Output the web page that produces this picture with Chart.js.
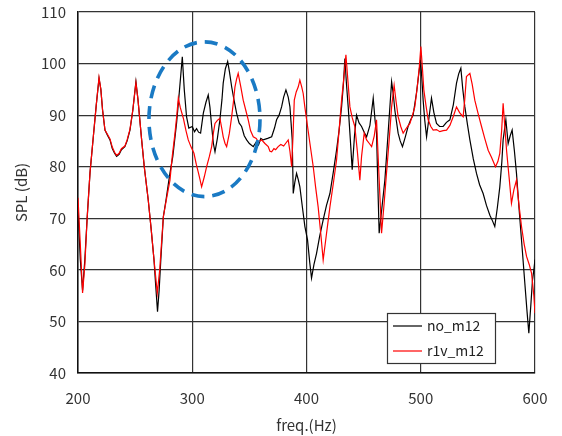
<!DOCTYPE html>
<html>
<head>
<meta charset="utf-8">
<script src="https://cdn.jsdelivr.net/npm/chart.js@4/dist/chart.umd.min.js"></script>
<style>
  html, body { margin: 0; padding: 0; background: #fff; }
  #wrap { width: 562px; height: 436px; }
</style>
</head>
<body>
<div id="wrap"><canvas id="splChart" width="562" height="436"></canvas></div>
<script>
// axis ticks
const freqTicks = [200, 300, 400, 500, 600];
const splTicks = [40, 50, 60, 70, 80, 90, 100, 110];

// no_m12 (black)
const freqNo = [200, 202, 204, 206, 208, 210.5, 213.4, 216, 218.4, 220, 221.5, 223.6, 226, 228, 230, 232, 233.8, 236, 238, 241,
  243, 245.5, 248, 250.7, 252.5, 255.7, 258, 261.5, 264, 266.5, 268, 269.6, 271, 272.5, 274.7, 277, 280.5, 283, 286.3, 288.5,
  291.3, 293, 295, 297, 300, 302, 303.8, 305.5, 307.3, 309.7, 312, 314, 315.5, 317, 318.5, 319.9, 322, 324.2, 326, 327.1,
  329, 331, 332.5, 334.5, 336.5, 338.8, 341, 343.2, 345.5, 347.6, 350, 353.4, 356, 358, 360, 362.1, 366, 369.5, 372, 373.8,
  376, 378.2, 380, 382, 384, 385.5, 386.5, 387.5, 388.4, 389.8, 391.3, 392.8, 394.2, 396.5, 398.6, 400.9, 402.8, 404.4, 406.5, 408.8,
  411.5, 414.6, 417.5, 420.5, 423.5, 426.3, 428.5, 430.7, 432.3, 433.6, 435, 436.5, 438.3, 440, 442, 443.8, 446, 448.2, 450.5, 452.6,
  455.5, 458.4, 460, 461.3, 462.5, 463.6, 466, 468.6, 470.5, 472.4, 474.5, 476, 477.3, 480.2, 482, 484, 486.5, 488.9, 491, 493.3,
  496.2, 498, 499.8, 501, 502.1, 503.5, 505.1, 507.2, 509.4, 511.5, 513.8, 516.5, 519.6, 522.5, 525.5, 528.5, 531.3, 533.2, 535.1, 536.8,
  538.6, 541, 543, 546, 548.8, 551.5, 554.6, 557.5, 560.5, 562.8, 564.8, 567, 569.2, 571, 572.1, 574.5, 576.5, 578.3, 580, 582,
  583.8, 586, 588.2, 591.1, 593, 594.6, 596.3, 597.8, 599, 600];
const splNo = [72, 62, 56, 62, 70, 78.8, 85.8, 92, 97.1, 95, 91, 87.1, 86, 85.2, 83.5, 82.6, 82, 82.4, 83.3, 83.9,
  85, 87.1, 91, 96.5, 93, 85.2, 80, 73.5, 68, 62, 57, 51.9, 56, 62, 70.3, 73.5, 78.8, 82, 88.5, 94,
  101.3, 95, 89.7, 87.5, 87.8, 86.8, 87.4, 86.7, 86.5, 90.4, 92.5, 93.9, 91.5, 87.8, 84.5, 82.9, 85.5, 89.1, 93, 96.2,
  99, 100.4, 98.5, 95.5, 93, 90.4, 88.5, 87.8, 86, 85.2, 84.5, 83.9, 84.8, 84.2, 85.5, 85.2, 85.5, 85.8, 87.5, 89.1,
  90, 91.6, 93.5, 94.9, 93.5, 91.6, 88.5, 85.2, 74.8, 77, 78.7, 77.5, 76.1, 72, 68.4, 65.8, 61.5, 58.4, 61, 63.2,
  66.5, 69.7, 72.5, 74.8, 79, 83.2, 87, 91.6, 96, 101, 96, 91.6, 85.5, 79.4, 86, 90, 88.5, 87.8, 86.7, 85.8,
  88, 93.3, 89, 86.5, 76, 67.1, 72, 77.4, 83.5, 89.7, 96.5, 94, 91, 86.5, 85, 83.9, 85.8, 87.8, 89, 90,
  94.2, 97.5, 100.7, 97, 92.9, 89, 85.8, 89.5, 93.3, 90.5, 88.4, 87.8, 87.8, 88.6, 89.1, 92, 96.2, 98, 99.1, 95,
  91.6, 88, 85.2, 81.5, 78.7, 76.5, 74.8, 72.5, 70.6, 69.5, 68.4, 72, 76.1, 81, 85.2, 89.1, 84.5, 86, 87.1, 83,
  78.7, 72, 65.8, 57.4, 52, 47.7, 53, 58, 60, 62];

// r1v_m12 (red)
const freqR1v = [200, 202, 204, 206, 208, 210.5, 213.4, 216, 218.4, 220, 221.5, 223.6, 226, 228, 230, 232, 233.8, 236, 238, 241,
  243, 245.5, 248, 250.7, 252.5, 255.7, 258, 261.5, 264, 266.5, 269.4, 271.5, 274.7, 277.5, 280.5, 282.5, 284.9, 286.5, 287.8, 289.5,
  292.2, 294.5, 296.5, 299, 301.5, 303.5, 305.2, 306.8, 308.2, 310.5, 312.6, 315, 317, 318.5, 319.9, 322, 324.2, 325.8, 327.1, 328.7,
  330.1, 332.5, 334.5, 336, 337.4, 338.8, 340.2, 342.5, 344.6, 346.8, 349, 351, 353.4, 356, 358, 360.7, 363.6, 366.5, 368, 369.5,
  371.5, 373, 375.2, 377.5, 380, 382, 384, 385.5, 387, 388.2, 389.3, 391, 392.8, 394.2, 395.8, 397.1, 398.6, 400.1, 403, 405.9,
  408, 410.2, 412.5, 414.6, 417.5, 420.5, 423.5, 426.3, 428.5, 430.7, 432.8, 434.5, 436.3, 438, 440, 442.3, 444.5, 446.7, 448.2, 450.5,
  452.6, 455, 457, 459.3, 461.3, 463.5, 465.7, 468, 470, 472.3, 474.5, 476.7, 478.5, 480.2, 482.5, 484.6, 487.5, 490.5, 492.8, 494.8,
  497, 498.8, 500.1, 501.5, 502.7, 504.5, 506.5, 508.8, 510.9, 513.8, 516.7, 519.6, 522.6, 525.5, 528.4, 531.3, 534, 537.1, 538.5, 540,
  543, 545, 547.3, 550, 553.2, 556, 559, 562, 565.4, 567.5, 569.2, 570.8, 572.1, 573.5, 575.1, 577.3, 579.4, 581.5, 583.8, 586,
  588.2, 590.5, 592.6, 595, 597, 599, 600];
const splR1v = [74, 65, 55.5, 61, 70, 78.8, 85.8, 92, 97.3, 95, 91, 87.1, 86.2, 85.4, 83.8, 82.8, 82.2, 82.6, 83.5, 84,
  85.2, 87.3, 91, 96.3, 93, 85.2, 80, 73.5, 68, 62, 55.5, 60, 70.3, 73.8, 77.4, 82, 86.5, 90, 93.3, 91.5,
  89.4, 87, 85.2, 83.8, 82.6, 80.5, 79, 77.5, 76.1, 78, 80, 82, 83.9, 86.5, 88.4, 89, 89.4, 87.5, 85.8, 84.5,
  83.9, 86.5, 89.7, 92.5, 95.5, 97, 98.1, 95.5, 92.9, 91, 89.1, 87, 85.8, 85.5, 84.8, 85.2, 84.5, 83.9, 83, 82.9,
  83.5, 83.3, 83.9, 84.3, 84, 84.6, 85.2, 83, 80, 86, 92.9, 94.5, 95.5, 96.8, 95.5, 94.2, 91.5, 89.1, 84.5, 80,
  76, 72.2, 67, 61.9, 67, 72.2, 76.8, 81.3, 87, 92.9, 97.5, 101.7, 96.5, 91.6, 89.5, 87.8, 83, 77.4, 82, 86.5,
  85.2, 84.5, 83.9, 86, 89.1, 78, 67.1, 73, 78.7, 85, 91.6, 95.8, 92.5, 89.7, 87.8, 86.5, 87.5, 88.4, 90, 91.6,
  95.5, 99.5, 103.3, 99, 94.9, 92, 89.1, 87.8, 87.1, 87.2, 86.8, 87, 87.1, 88, 89.7, 91.6, 90.5, 89.7, 93, 97.5,
  98.1, 96, 92.9, 90.5, 87.8, 85.5, 83.2, 81.8, 80, 81, 82.6, 87, 92.3, 88, 83.2, 78, 72.9, 75.5, 77.4, 72.5,
  68.4, 65, 62.6, 61, 59.3, 55, 51.6];

const seriesNames = ['no_m12', 'r1v_m12'];
const seriesColors = ['#000000', '#ff0000'];

const toPoints = (xs, ys) => xs.map((x, i) => ({ x: x, y: ys[i] }));

// dashed blue ellipse around the 280-360 Hz region, given in data units
const ringCenter = { x: 310.7, y: 89.2 };
const ringRadius = { x: 48.6, y: 15.0 };

const ringPlugin = {
    id: 'ring',
    afterDatasetsDraw(chart) {
        const { ctx, scales: { x, y } } = chart;
        const cx = x.getPixelForValue(ringCenter.x);
        const cy = y.getPixelForValue(ringCenter.y);
        const rx = x.getPixelForValue(ringCenter.x + ringRadius.x) - cx;
        const ry = cy - y.getPixelForValue(ringCenter.y + ringRadius.y);
        ctx.save();
        ctx.strokeStyle = '#1a7ac4';
        ctx.lineWidth = 3.6;
        ctx.setLineDash([13, 8]);
        ctx.beginPath();
        ctx.ellipse(cx, cy, rx, ry, 0, 0, Math.PI * 2);
        ctx.stroke();
        ctx.restore();
    }
};

// boxed legend in the lower right of the plot
const boxLegendPlugin = {
    id: 'boxLegend',
    afterDraw(chart) {
        const { ctx, chartArea } = chart;
        const w = 108, h = 50;
        const left = chartArea.right - 148;
        const top = chartArea.bottom - 60;
        ctx.save();
        ctx.fillStyle = '#fff';
        ctx.fillRect(left, top, w, h);
        ctx.strokeStyle = '#333';
        ctx.lineWidth = 1.2;
        ctx.strokeRect(left + 0.5, top + 0.5, w, h);
        ctx.font = '14px "Noto Sans CJK KR", sans-serif';
        ctx.textBaseline = 'middle';
        seriesNames.forEach((name, i) => {
            const ly = top + 13 + i * 25;
            ctx.strokeStyle = seriesColors[i];
            ctx.lineWidth = 1.2;
            ctx.beginPath();
            ctx.moveTo(left + 6, ly);
            ctx.lineTo(left + 35, ly);
            ctx.stroke();
            ctx.fillStyle = '#222';
            ctx.fillText(name, left + 40, ly);
        });
        ctx.restore();
    }
};

const tickFont = { family: '"Noto Sans CJK KR", sans-serif', size: 15 };

new Chart(document.getElementById('splChart').getContext('2d'), {
    type: 'line',
    data: {
        datasets: [
            {
                label: seriesNames[0],
                data: toPoints(freqNo, splNo),
                borderColor: seriesColors[0],
                borderWidth: 1.2,
                pointRadius: 0,
                tension: 0,
                order: 2
            },
            {
                label: seriesNames[1],
                data: toPoints(freqR1v, splR1v),
                borderColor: seriesColors[1],
                borderWidth: 1.2,
                pointRadius: 0,
                tension: 0,
                order: 1
            }
        ]
    },
    options: {
        responsive: false,
        animation: false,
        layout: { padding: { top: 12, right: 27, left: 0, bottom: 0 } },
        plugins: {
            legend: { display: false },
            tooltip: { enabled: false }
        },
        scales: {
            x: {
                type: 'linear',
                min: freqTicks[0],
                max: freqTicks[freqTicks.length - 1],
                afterBuildTicks: (axis) => { axis.ticks = freqTicks.map(v => ({ value: v })); },
                afterFit: (axis) => {
                    axis.height = 63;
                    axis.paddingLeft = 0;
                    axis.paddingRight = 0;
                },
                grid: { color: '#333', lineWidth: 1.2, drawTicks: false },
                border: { color: '#111', width: 1.5 },
                ticks: { color: '#333', font: tickFont, padding: 16 },
                title: {
                    display: true,
                    text: 'freq.(Hz)',
                    color: '#333',
                    font: tickFont,
                    padding: { top: 0, bottom: 2 }
                }
            },
            y: {
                min: splTicks[0],
                max: splTicks[splTicks.length - 1],
                afterBuildTicks: (axis) => { axis.ticks = splTicks.map(v => ({ value: v })); },
                afterFit: (axis) => {
                    axis.width = 78;
                    axis.paddingTop = 0;
                    axis.paddingBottom = 0;
                },
                grid: { color: '#333', lineWidth: 1.2, drawTicks: false },
                border: { color: '#111', width: 1.5 },
                ticks: { color: '#333', font: tickFont, padding: 12 },
                title: {
                    display: true,
                    text: 'SPL (dB)',
                    color: '#333',
                    font: tickFont,
                    padding: { top: 12, bottom: 0 }
                }
            }
        }
    },
    plugins: [ringPlugin, boxLegendPlugin]
});
</script>
</body>
</html>
